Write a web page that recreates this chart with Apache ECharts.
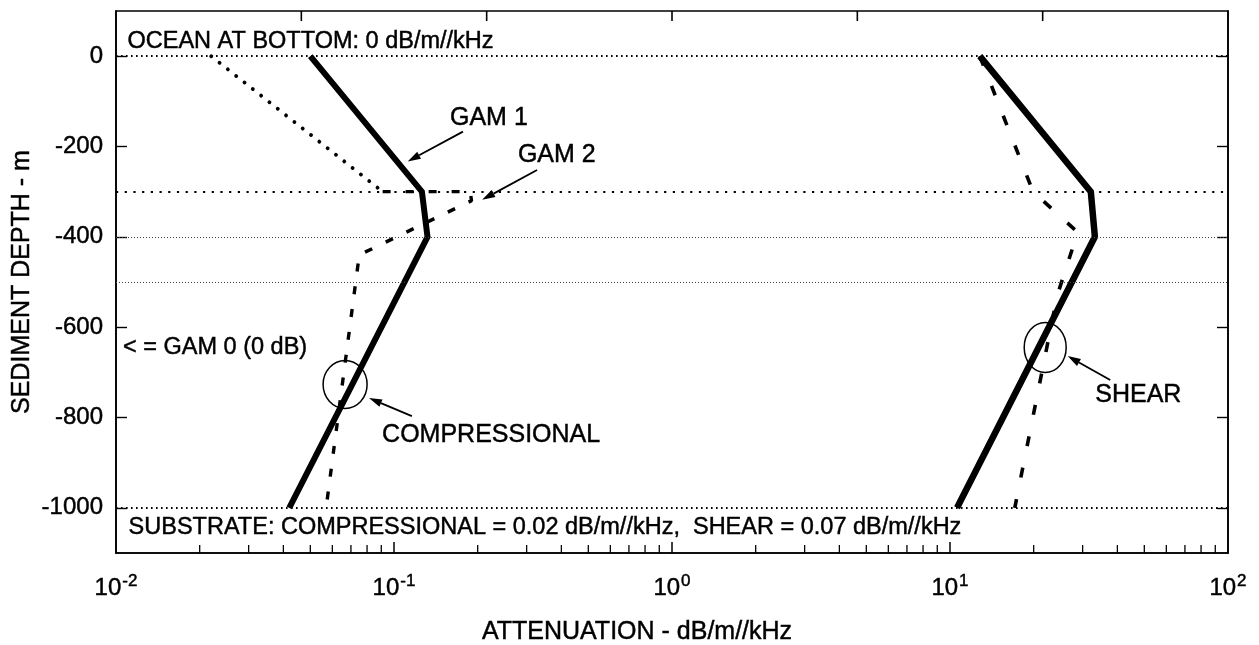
<!DOCTYPE html>
<html><head><meta charset="utf-8">
<script src="https://cdn.jsdelivr.net/npm/echarts@6/dist/echarts.min.js"></script>
<style>html,body{margin:0;padding:0;background:#fff}#c{width:1259px;height:645px}</style>
</head><body><div id="c"></div>
<script>
// ---------------- data ----------------
const xTickValues = [0.01, 0.1, 1, 10, 100];
const yTickValues = [0, -200, -400, -600, -800, -1000];
const boundaryDepths = [0, -300, -400, -500, -1000];

const gam1CompDepth = [0, -300, -400, -1000];
const gam1CompAtten = [0.050, 0.126, 0.132, 0.042];
const gam2CompUpperDepth = [0, -300];
const gam2CompUpperAtten = [0.022, 0.091];
const gam2CompLowerDepth = [-300, -300, -320, -440, -1000];
const gam2CompLowerAtten = [0.091, 0.188, 0.190, 0.075, 0.057];
const gam1ShearDepth = [0, -300, -400, -1000];
const gam1ShearAtten = [12.8, 32.1, 33.2, 10.6];
const gam2ShearDepth = [0, -300, -390, -530, -1000];
const gam2ShearAtten = [12.8, 19.9, 28.8, 24.3, 17.1];

const noteTexts = ['OCEAN AT BOTTOM: 0 dB/m//kHz', 'GAM 1', 'GAM 2', '< = GAM 0 (0 dB)', 'COMPRESSIONAL', 'SHEAR',
  'SUBSTRATE: COMPRESSIONAL = 0.02 dB/m//kHz,  SHEAR = 0.07 dB/m//kHz'];
const noteAtten = [0.0110, 0.159, 0.279, 0.0106, 0.0906, 33.3, 0.0111];
const noteDepth = [33, -138, -220, -646, -838, -750, -1044];

const arrowFromAtten = [0.177, 0.327, 0.116, 37.7];
const arrowFromDepth = [-167, -252, -797, -717];
const arrowToAtten = [0.112, 0.2075, 0.0813, 26.5];
const arrowToDepth = [-233, -318, -757, -664];

const ringAtten = [0.0667, 22.0];
const ringDepth = [-727, -645];

const topTickCount = 6;   // evenly spaced ticks along the top frame

// ---------------- chart ----------------
const FONT = '"Liberation Sans", Arial, Helvetica, sans-serif';
const INK = {textBorderColor: '#000', textBorderWidth: 0.45};
const zip = (xs, ys) => xs.map((x, i) => [x, ys[i]]);

const boundaryStyles = {
  '0': {type: [1.6, 3.4], width: 1.8, color: '#000'},
  '-300': {type: [2.2, 6.5], width: 2.2, color: '#000'},
  '-400': {type: [1, 2], width: 1, color: '#444'},
  '-500': {type: [1, 2], width: 1, color: '#444'},
  '-1000': {type: [1.6, 3.4], width: 1.8, color: '#000'}
};

const chart = echarts.init(document.getElementById('c'), null, {renderer: 'canvas'});
const lineBase = {type: 'line', symbol: 'none', xAxisIndex: 0, yAxisIndex: 0, silent: true, animation: false};

chart.setOption({
  animation: false,
  backgroundColor: '#fff',
  grid: {left: 116, top: 11, width: 1112, height: 542, containLabel: false, outerBoundsMode: 'none',
    show: true, borderColor: '#000', borderWidth: 1.6, backgroundColor: 'transparent'},
  xAxis: [
    {
      type: 'log', logBase: 10, min: 0.01, max: 100, position: 'bottom',
      axisLine: {show: true, onZero: false, lineStyle: {color: '#000', width: 1.6}},
      axisTick: {show: false},
      splitLine: {show: false},
      axisLabel: {
        margin: 20, color: '#000',
        formatter: v => '{b|10}{s|' + Math.round(Math.log10(v)) + '}',
        rich: {
          b: Object.assign({fontSize: 24, fontFamily: FONT, color: '#000'}, INK),
          s: Object.assign({fontSize: 17, fontFamily: FONT, color: '#000', padding: [0, 0, 14, 1]}, INK)
        }
      },
      name: 'ATTENUATION - dB/m//kHz', nameLocation: 'middle', nameGap: 67, nameMoveOverlap: false,
      nameTextStyle: Object.assign({fontSize: 25, fontFamily: FONT, color: '#000', padding: [0, 70, 0, 0]}, INK)
    },
    {
      type: 'value', min: 0, max: topTickCount, interval: 1, position: 'top', show: false
    }
  ],
  yAxis: [
    {
      type: 'value', min: -1100, max: 100, position: 'left',
      axisLine: {show: true, onZero: false, lineStyle: {color: '#000', width: 1.6}},
      axisTick: {show: true, inside: true, length: 11, customValues: yTickValues, lineStyle: {color: '#000', width: 1.4}},
      axisLabel: Object.assign({customValues: yTickValues, formatter: v => String(v), fontSize: 24, fontFamily: FONT,
        color: '#000', margin: 13}, INK),
      splitLine: {show: false},
      name: 'SEDIMENT DEPTH - m', nameLocation: 'middle', nameGap: 81, nameRotate: 90, nameMoveOverlap: false,
      nameTextStyle: Object.assign({fontSize: 25, fontFamily: FONT, color: '#000'}, INK)
    },
    {
      type: 'value', min: -1100, max: 100, position: 'right',
      axisLine: {show: true, onZero: false, lineStyle: {color: '#000', width: 1.6}},
      axisTick: {show: true, inside: true, length: 11, customValues: yTickValues, lineStyle: {color: '#000', width: 1.4}},
      axisLabel: {show: false}, splitLine: {show: false}
    }
  ],
  series: [
    Object.assign({}, lineBase, {
      name: 'boundaries', data: [], z: 1,
      markLine: {
        silent: true, symbol: ['none', 'none'], label: {show: false}, animation: false,
        data: boundaryDepths.map(d => ({yAxis: d, lineStyle: boundaryStyles[String(d)]}))
      }
    }),
    Object.assign({}, lineBase, {name: 'GAM 2 comp upper', data: zip(gam2CompUpperAtten, gam2CompUpperDepth), z: 3,
      lineStyle: {color: '#000', width: 3.8, type: [0.1, 10.5], cap: 'round'}}),
    Object.assign({}, lineBase, {name: 'GAM 2 comp lower', data: zip(gam2CompLowerAtten, gam2CompLowerDepth), z: 3,
      lineStyle: {color: '#000', width: 3.4, type: [8, 15], cap: 'butt'}}),
    Object.assign({}, lineBase, {name: 'GAM 2 shear', data: zip(gam2ShearAtten, gam2ShearDepth), z: 3,
      lineStyle: {color: '#000', width: 3.6, type: [10, 22], cap: 'butt'}}),
    Object.assign({}, lineBase, {name: 'GAM 1 comp', data: zip(gam1CompAtten, gam1CompDepth), z: 4,
      lineStyle: {color: '#000', width: 6, join: 'miter'}}),
    Object.assign({}, lineBase, {name: 'GAM 1 shear', data: zip(gam1ShearAtten, gam1ShearDepth), z: 4,
      lineStyle: {color: '#000', width: 6.5, join: 'miter'}})
  ]
});

// ---------------- frame ticks & annotations (anchored through the axes) ----------------
const px = (x, y) => chart.convertToPixel({xAxisIndex: 0, yAxisIndex: 0}, [x, y]);
const graphics = [];
const yBottom = px(1, -1100)[1], yTop = px(1, 100)[1];
const tick = (x, y1, y2, w) => graphics.push({type: 'line', silent: true, z: 9,
  shape: {x1: x, y1: y1, x2: x, y2: y2}, style: {stroke: '#000', lineWidth: w}});
// bottom: decade ticks and minor log ticks
xTickValues.forEach((v, i) => {
  const x = px(v, 0)[0];
  if (i > 0 && i < xTickValues.length - 1) tick(x, yBottom, yBottom - 11, 1.5);
  if (i < xTickValues.length - 1) {
    for (let k = 2; k <= 9; k++) tick(px(v * k, 0)[0], yBottom, yBottom - 8, 1.3);
  }
});
// top: evenly spaced ticks
for (let k = 1; k < topTickCount; k++) {
  const x = chart.convertToPixel({xAxisIndex: 1}, k);
  tick(x, yTop, yTop + 10, 1.6);
}
noteTexts.forEach((t, i) => {
  const p = px(noteAtten[i], noteDepth[i]);
  const big = (t === 'GAM 1' || t === 'GAM 2' || t === 'COMPRESSIONAL' || t === 'SHEAR');
  graphics.push({type: 'text', silent: true, z: 10, x: p[0], y: p[1],
    style: {text: t, fill: '#000', fontSize: big ? 25 : 23.5, fontFamily: FONT, align: 'left', verticalAlign: 'middle',
      stroke: '#000', lineWidth: 0.45}});
});
arrowFromAtten.forEach((_, i) => {
  const a = px(arrowFromAtten[i], arrowFromDepth[i]);
  const b = px(arrowToAtten[i], arrowToDepth[i]);
  const dx = b[0] - a[0], dy = b[1] - a[1], L = Math.hypot(dx, dy);
  const ux = dx / L, uy = dy / L, hl = 13, hw = 4;
  const bx = b[0] - ux * hl, by = b[1] - uy * hl;
  graphics.push({type: 'line', silent: true, z: 10, shape: {x1: a[0], y1: a[1], x2: bx, y2: by},
    style: {stroke: '#000', lineWidth: 1.8}});
  graphics.push({type: 'polygon', silent: true, z: 10,
    shape: {points: [[b[0], b[1]], [bx - uy * hw, by + ux * hw], [bx + uy * hw, by - ux * hw]]},
    style: {fill: '#000'}});
});
const ringR = [[22, 24], [21, 25]];
ringAtten.forEach((_, i) => {
  const c = px(ringAtten[i], ringDepth[i]);
  graphics.push({type: 'ellipse', silent: true, z: 10, shape: {cx: c[0], cy: c[1], rx: ringR[i][0], ry: ringR[i][1]},
    style: {fill: 'none', stroke: '#000', lineWidth: 1.5}});
});
chart.setOption({graphic: graphics});
</script>
</body></html>
